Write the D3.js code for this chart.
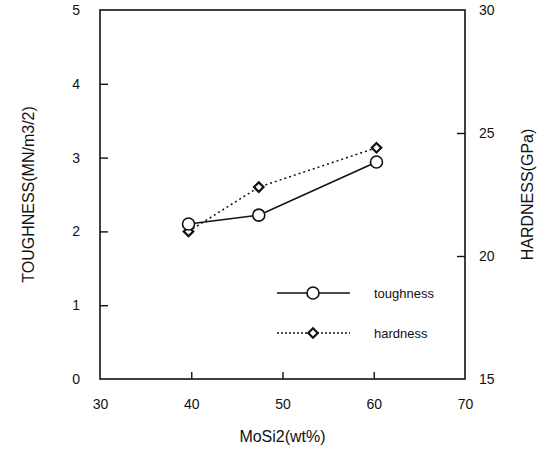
<!DOCTYPE html>
<html>
<head>
<meta charset="utf-8">
<script src="https://cdn.jsdelivr.net/npm/d3@7"></script>
<style>
  body { margin: 0; background: #fff; }
  text { font-family: "Liberation Sans", Arial, sans-serif; fill: #111; }
</style>
</head>
<body>
<svg id="chart" width="545" height="459"></svg>
<script>
// data
var mosi2 = [39.7, 47.4, 60.3]
var toughness = [2.1, 2.22, 2.94]
var hardness = [21.0, 22.8, 24.4]
var xTicks = [30, 40, 50, 60, 70]
var leftTicks = [0, 1, 2, 3, 4, 5]
var rightTicks = [15, 20, 25, 30]

var svg = d3.select('#chart')
var margin = {left: 100, right: 80, top: 10, bottom: 80}
var width = 545 - margin.left - margin.right
var height = 459 - margin.top - margin.bottom

var g = svg.append('g')
  .attr('transform', 'translate(' + margin.left + ',' + margin.top + ')')

var x = d3.scaleLinear().domain([30, 70]).range([0, width])
var yL = d3.scaleLinear().domain([0, 5]).range([height, 0])
var yR = d3.scaleLinear().domain([15, 30]).range([height, 0])

// frame (no top ticks)
g.append('rect')
  .attr('width', width).attr('height', height)
  .style('fill', 'none').style('stroke', '#111').style('stroke-width', 1.6)

var bottom = g.append('g')
  .attr('transform', 'translate(0,' + height + ')')
  .call(d3.axisBottom(x).tickValues(xTicks).tickFormat(d3.format('d'))
    .tickSizeInner(-7).tickSizeOuter(0).tickPadding(20))
var left = g.append('g')
  .call(d3.axisLeft(yL).tickValues(leftTicks).tickFormat(d3.format('d'))
    .tickSizeInner(-8).tickSizeOuter(0).tickPadding(20))
var right = g.append('g')
  .attr('transform', 'translate(' + width + ',0)')
  .call(d3.axisRight(yR).tickValues(rightTicks).tickFormat(d3.format('d'))
    .tickSizeInner(-8).tickSizeOuter(0).tickPadding(14))

;[bottom, left, right].forEach(function(a){
  a.select('.domain').remove()
  a.selectAll('line').style('stroke', '#111').style('stroke-width', 1.4)
  a.selectAll('text').style('font-size', '14px')
    .style('font-family', '"Liberation Sans", Arial, sans-serif').style('fill', '#111')
})
// hide ticks at the frame corners
bottom.selectAll('.tick').filter(function(d){ return d == 30 || d == 70 }).select('line').remove()
left.selectAll('.tick').filter(function(d){ return d == 0 || d == 5 }).select('line').remove()
right.selectAll('.tick').filter(function(d){ return d == 15 || d == 30 }).select('line').remove()

// axis titles
svg.append('text')
  .attr('transform', 'translate(34,' + (margin.top + height / 2) + ') rotate(-90)')
  .attr('text-anchor', 'middle')
  .style('font-size', '16px')
  .text('TOUGHNESS(MN/m3/2)')
svg.append('text')
  .attr('transform', 'translate(533,' + (margin.top + height / 2) + ') rotate(-90)')
  .attr('text-anchor', 'middle')
  .style('font-size', '16px')
  .text('HARDNESS(GPa)')
svg.append('text')
  .attr('x', margin.left + x(50)).attr('y', 442)
  .attr('text-anchor', 'middle')
  .style('font-size', '16px')
  .text('MoSi2(wt%)')

// series
var tData = mosi2.map(function(d, i){ return [x(d), yL(toughness[i])] })
var hData = mosi2.map(function(d, i){ return [x(d), yR(hardness[i])] })

g.append('path')
  .attr('d', d3.line()(hData))
  .style('fill', 'none').style('stroke', '#111').style('stroke-width', 1.5)
  .style('stroke-dasharray', '2,3')
g.append('path')
  .attr('d', d3.line()(tData))
  .style('fill', 'none').style('stroke', '#111').style('stroke-width', 1.6)

var diamond = d3.symbol().type(d3.symbolSquare).size(45)
g.selectAll('.hard')
  .data(hData).enter().append('path')
  .attr('class', 'hard')
  .attr('d', diamond)
  .attr('transform', function(d){ return 'translate(' + d[0] + ',' + d[1] + ') rotate(45)' })
  .style('fill', '#fff').style('stroke', '#111').style('stroke-width', 2.2)
g.selectAll('.tough')
  .data(tData).enter().append('circle')
  .attr('class', 'tough')
  .attr('cx', function(d){ return d[0] }).attr('cy', function(d){ return d[1] })
  .attr('r', 6)
  .style('fill', '#fff').style('stroke', '#111').style('stroke-width', 1.6)

// legend
var lg = svg.append('g')
lg.append('line').attr('x1', 277).attr('x2', 350).attr('y1', 293).attr('y2', 293)
  .style('stroke', '#111').style('stroke-width', 1.6)
lg.append('circle').attr('cx', 313).attr('cy', 293).attr('r', 6)
  .style('fill', '#fff').style('stroke', '#111').style('stroke-width', 1.6)
lg.append('text').attr('x', 374).attr('y', 298).style('font-size', '13px').text('toughness')

lg.append('line').attr('x1', 277).attr('x2', 350).attr('y1', 333).attr('y2', 333)
  .style('stroke', '#111').style('stroke-width', 1.5).style('stroke-dasharray', '2,2')
lg.append('path').attr('d', diamond)
  .attr('transform', 'translate(313,333) rotate(45)')
  .style('fill', '#fff').style('stroke', '#111').style('stroke-width', 2.2)
lg.append('text').attr('x', 374).attr('y', 338).style('font-size', '13px').text('hardness')
</script>
</body>
</html>
